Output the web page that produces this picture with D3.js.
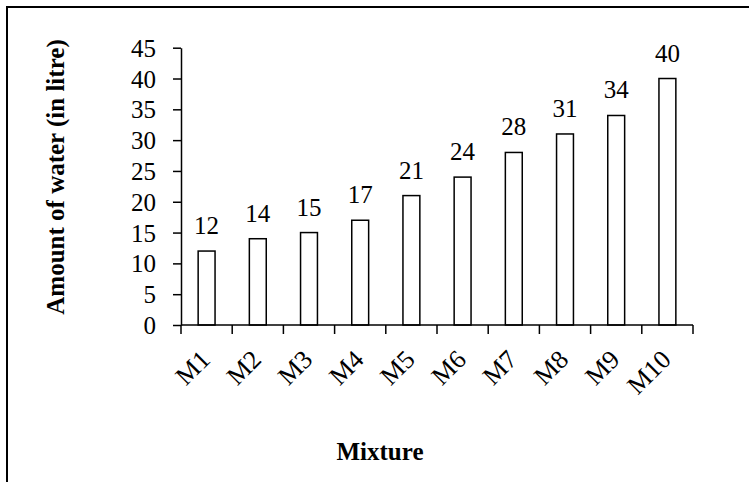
<!DOCTYPE html>
<html>
<head>
<meta charset="utf-8">
<script src="https://cdn.jsdelivr.net/npm/d3@7"></script>
<style>
  body { margin: 0; background: #fff; }
  text { font-family: "Liberation Serif", "Times New Roman", serif; fill: #000; }
</style>
</head>
<body>
<div id="chart"></div>
<script>
var w = 749, h = 482;

// data
var mixtures = ["M1", "M2", "M3", "M4", "M5", "M6", "M7", "M8", "M9", "M10"];
var water = [12, 14, 15, 17, 21, 24, 28, 31, 34, 40];
var yTicks = [0, 5, 10, 15, 20, 25, 30, 35, 40, 45];

// plot area (note: "top" is taken by window.top)
var plotLeft = 181, plotRight = 693, plotTop = 47.7, plotBottom = 325;
var fs = 25; // tick / label font size

var svg = d3.select("#chart")
    .append("svg")
    .attr("width", w)
    .attr("height", h);

// frame around the whole picture (runs off right and bottom)
svg.append("rect")
    .attr("x", 7).attr("y", 7)
    .attr("width", 800).attr("height", 600)
    .attr("fill", "none")
    .attr("stroke", "#000")
    .attr("stroke-width", 2);

var x = d3.scaleBand()
    .domain(mixtures)
    .range([plotLeft, plotRight])
    .paddingInner(0.67)
    .paddingOuter(0.335);

var y = d3.scaleLinear()
    .domain([0, 45])
    .range([plotBottom, plotTop]);

// y axis
var yAxis = svg.append("g")
    .attr("transform", "translate(" + plotLeft + ",0)")
    .call(d3.axisLeft(y).tickValues(yTicks).tickSize(8).tickSizeOuter(0).tickPadding(17));
yAxis.select(".domain").attr("stroke", "#000").attr("stroke-width", 1.5);
yAxis.selectAll(".tick line").attr("stroke", "#000").attr("stroke-width", 1.5);
yAxis.selectAll("text")
    .attr("font-family", "Liberation Serif")
    .attr("font-size", fs)
    .attr("dy", "0.34em");

// bars
svg.selectAll("rect.bar")
    .data(water)
    .enter()
    .append("rect")
    .attr("class", "bar")
    .attr("x", function(d, i) { return x(mixtures[i]); })
    .attr("y", function(d) { return y(d); })
    .attr("width", x.bandwidth())
    .attr("height", function(d) { return y(0) - y(d); })
    .attr("fill", "#fff")
    .attr("stroke", "#000")
    .attr("stroke-width", 1.5);

// value labels
svg.selectAll("text.val")
    .data(water)
    .enter()
    .append("text")
    .attr("class", "val")
    .attr("x", function(d, i) { return x(mixtures[i]) + x.bandwidth() / 2; })
    .attr("y", function(d) { return y(d) - 17; })
    .attr("text-anchor", "middle")
    .attr("font-size", fs)
    .text(function(d) { return d; });

// x axis line and ticks between categories
svg.append("line")
    .attr("x1", plotLeft).attr("x2", plotRight)
    .attr("y1", plotBottom).attr("y2", plotBottom)
    .attr("stroke", "#000").attr("stroke-width", 1.5);

var bounds = d3.range(mixtures.length + 1).map(function(i) { return plotLeft + i * x.step(); });
svg.selectAll("line.xt")
    .data(bounds)
    .enter()
    .append("line")
    .attr("class", "xt")
    .attr("x1", function(d) { return d; }).attr("x2", function(d) { return d; })
    .attr("y1", plotBottom).attr("y2", plotBottom + 9)
    .attr("stroke", "#000").attr("stroke-width", 1.5);

// rotated category labels
svg.selectAll("text.cat")
    .data(mixtures)
    .enter()
    .append("text")
    .attr("class", "cat")
    .attr("text-anchor", "end")
    .attr("font-size", fs + 1)
    .attr("transform", function(d) {
      return "translate(" + (x(d) + x.bandwidth() / 2 + 5) + "," + (plotBottom + 36) + ") rotate(-45)";
    })
    .text(function(d) { return d; });

// axis titles
svg.append("text")
    .attr("x", 380).attr("y", 460)
    .attr("text-anchor", "middle")
    .attr("font-size", 25)
    .attr("font-weight", "bold")
    .text("Mixture");

svg.append("text")
    .attr("transform", "translate(64,177) rotate(-90)")
    .attr("text-anchor", "middle")
    .attr("font-size", 25)
    .attr("font-weight", "bold")
    .text("Amount of water (in litre)");
</script>
</body>
</html>
